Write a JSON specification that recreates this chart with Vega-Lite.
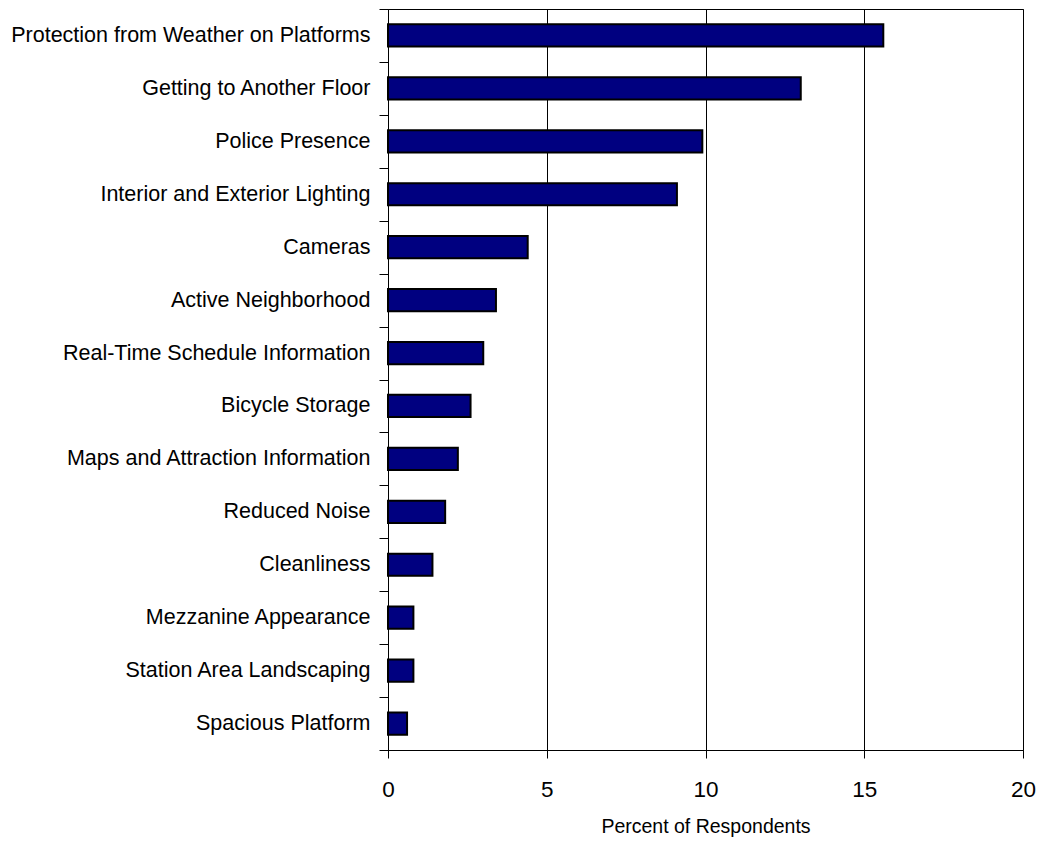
{
  "$schema": "https://vega.github.io/schema/vega-lite/v6.json",
  "autosize": {"type": "none"},
  "padding": {"left": 388, "top": 9, "right": 16, "bottom": 92},
  "width": 635,
  "height": 741,
  "background": "white",
  "config": {
    "view": {"stroke": "black", "strokeWidth": 1},
    "font": "Liberation Sans"
  },
  "data": {
    "values": [
      {"feature": "Protection from Weather on Platforms", "percent": 15.6},
      {"feature": "Getting to Another Floor", "percent": 13.0},
      {"feature": "Police Presence", "percent": 9.9},
      {"feature": "Interior and Exterior Lighting", "percent": 9.1},
      {"feature": "Cameras", "percent": 4.4},
      {"feature": "Active Neighborhood", "percent": 3.4},
      {"feature": "Real-Time Schedule Information", "percent": 3.0},
      {"feature": "Bicycle Storage", "percent": 2.6},
      {"feature": "Maps and Attraction Information", "percent": 2.2},
      {"feature": "Reduced Noise", "percent": 1.8},
      {"feature": "Cleanliness", "percent": 1.4},
      {"feature": "Mezzanine Appearance", "percent": 0.8},
      {"feature": "Station Area Landscaping", "percent": 0.8},
      {"feature": "Spacious Platform", "percent": 0.6}
    ]
  },
  "mark": {
    "type": "bar",
    "fill": "#000080",
    "stroke": "black",
    "strokeWidth": 2,
    "height": {"band": 0.42}
  },
  "encoding": {
    "y": {
      "field": "feature",
      "type": "nominal",
      "sort": null,
      "scale": {"paddingInner": 0, "paddingOuter": 0},
      "axis": {
        "title": null,
        "tickBand": "extent",
        "domainColor": "black",
        "tickColor": "black",
        "tickSize": 9,
        "labelPadding": 9,
        "labelFontSize": 21.5,
        "labelColor": "black",
        "labelLimit": 400,
        "grid": false
      }
    },
    "x": {
      "field": "percent",
      "type": "quantitative",
      "scale": {"domain": [0, 20], "nice": false},
      "axis": {
        "title": "Percent of Respondents",
        "values": [0, 5, 10, 15, 20],
        "grid": true,
        "gridColor": "black",
        "gridOpacity": 1,
        "gridWidth": 1,
        "domainColor": "black",
        "tickColor": "black",
        "tickSize": 8,
        "labelFlush": false,
        "labelPadding": 20,
        "labelFontSize": 22.5,
        "labelColor": "black",
        "titleFontSize": 19.5,
        "titleFontWeight": "normal",
        "titleColor": "black",
        "titlePadding": 17
      }
    }
  }
}
